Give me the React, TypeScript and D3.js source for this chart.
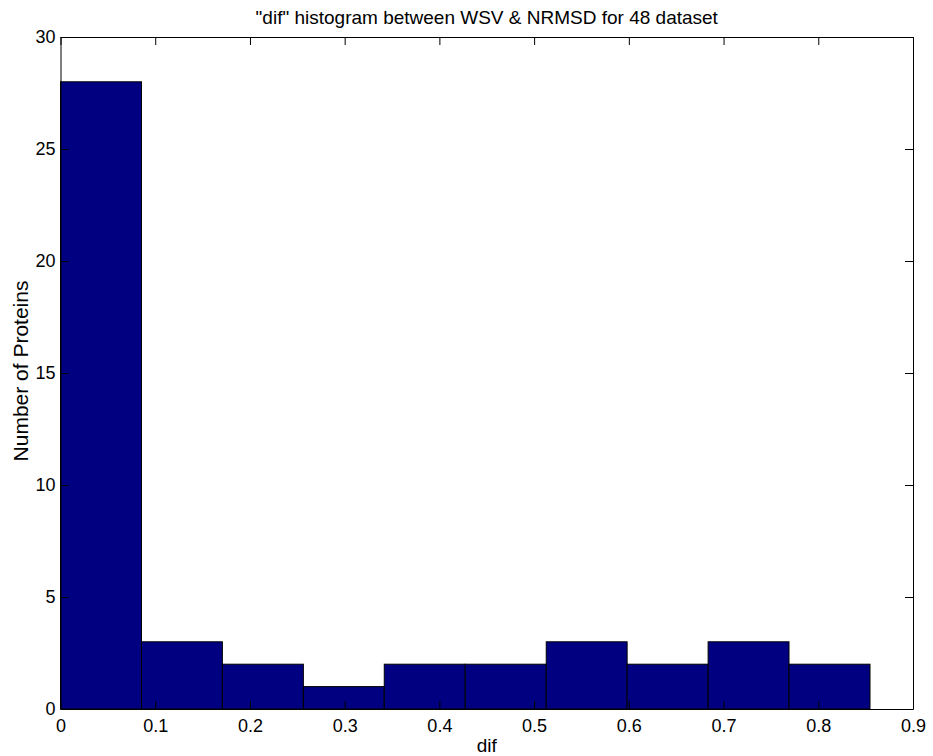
import { useEffect, useRef } from "react";
import * as d3 from "d3";

const binEdges = [0, 0.0855, 0.1709, 0.2564, 0.3418, 0.4273, 0.5128, 0.5982, 0.6837, 0.7691, 0.8546];
const counts = [28, 3, 2, 1, 2, 2, 3, 2, 3, 2];
const xTicks = [0, 0.1, 0.2, 0.3, 0.4, 0.5, 0.6, 0.7, 0.8, 0.9];
const yTicks = [0, 5, 10, 15, 20, 25, 30];

const title = '"dif" histogram between WSV & NRMSD for 48 dataset';
const xLabel = "dif";
const yLabel = "Number of Proteins";

export default function App() {
  const svgRef = useRef<SVGSVGElement>(null);
  const width = 933;
  const height = 756;
  const margin = { top: 37, right: 20, bottom: 47, left: 60.5 };

  useEffect(() => {
    const svg = d3.select(svgRef.current);
    svg.selectAll("*").remove();

    const x = d3
      .scaleLinear()
      .domain([0, 0.9])
      .range([margin.left, width - margin.right]);
    const y = d3
      .scaleLinear()
      .domain([0, 30])
      .range([height - margin.bottom, margin.top]);

    const font = "'Liberation Sans', Arial, sans-serif";
    const bars = counts.map((c, i) => ({ x0: binEdges[i], x1: binEdges[i + 1], c }));

    svg
      .append("rect")
      .attr("x", margin.left)
      .attr("y", margin.top)
      .attr("width", width - margin.right - margin.left)
      .attr("height", height - margin.bottom - margin.top)
      .attr("fill", "#fff");

    svg
      .selectAll(".bar")
      .data(bars)
      .enter()
      .append("rect")
      .attr("class", "bar")
      .attr("x", (d) => x(d.x0))
      .attr("y", (d) => y(d.c))
      .attr("width", (d) => x(d.x1) - x(d.x0))
      .attr("height", (d) => y(0) - y(d.c))
      .attr("fill", "#000080")
      .attr("stroke", "#000")
      .attr("stroke-width", 1);

    const styleAxis = (g, hideLabels = false) => {
      g.select(".domain").attr("stroke", "#000").attr("stroke-width", 1);
      g.selectAll(".tick line").attr("stroke", "#000");
      g.selectAll(".tick text")
        .attr("font-family", font)
        .attr("font-size", 18)
        .attr("fill", "#000");
      if (hideLabels) g.selectAll(".tick text").remove();
    };

    svg
      .append("g")
      .attr("transform", `translate(0,${y(0)})`)
      .call(
        d3.axisBottom(x).tickValues(xTicks).tickSizeInner(-8).tickSizeOuter(0).tickPadding(10)
          .tickFormat((d) => (d === 0 ? "0" : d3.format(".1f")(d)))
      )
      .call((g) => styleAxis(g));
    svg
      .append("g")
      .attr("transform", `translate(0,${y(30)})`)
      .call(d3.axisTop(x).tickValues(xTicks).tickSizeInner(-8).tickSizeOuter(0))
      .call((g) => styleAxis(g, true));
    svg
      .append("g")
      .attr("transform", `translate(${x(0)},0)`)
      .call(d3.axisLeft(y).tickValues(yTicks).tickSizeInner(-8).tickSizeOuter(0).tickPadding(5))
      .call((g) => styleAxis(g));
    svg
      .append("g")
      .attr("transform", `translate(${x(0.9)},0)`)
      .call(d3.axisRight(y).tickValues(yTicks).tickSizeInner(-8).tickSizeOuter(0))
      .call((g) => styleAxis(g, true));

    svg
      .append("text")
      .attr("x", (x(0) + x(0.9)) / 2)
      .attr("y", 24)
      .attr("text-anchor", "middle")
      .attr("font-family", font)
      .attr("font-size", 19)
      .text(title);

    svg
      .append("text")
      .attr("x", (x(0) + x(0.9)) / 2)
      .attr("y", 752)
      .attr("text-anchor", "middle")
      .attr("font-family", font)
      .attr("font-size", 19)
      .text(xLabel);

    svg
      .append("text")
      .attr("transform", `translate(28,${(y(0) + y(30)) / 2 - 2}) rotate(-90)`)
      .attr("text-anchor", "middle")
      .attr("font-family", font)
      .attr("font-size", 21)
      .text(yLabel);
  }, []);

  return (
    <svg
      ref={svgRef}
      width={width}
      height={height}
      style={{ position: "absolute", left: 0, top: 0, background: "#fff" }}
    ></svg>
  );
}
